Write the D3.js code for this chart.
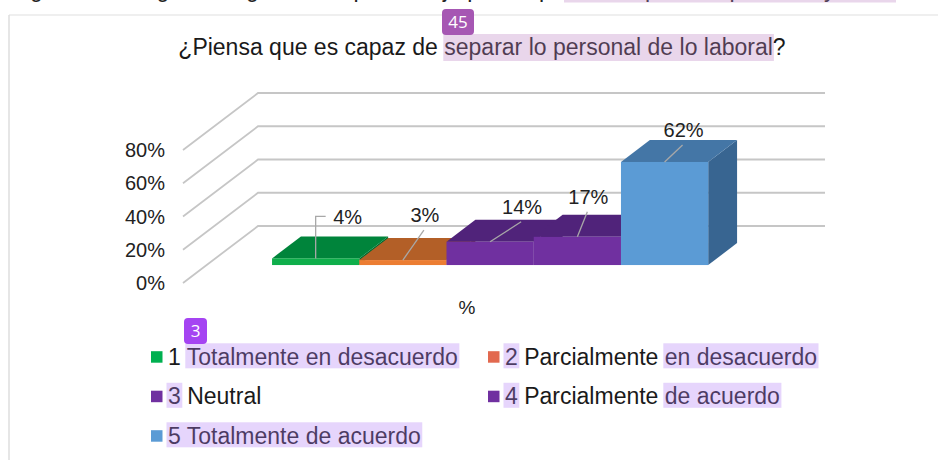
<!DOCTYPE html>
<html>
<head>
<meta charset="utf-8">
<script src="https://cdn.jsdelivr.net/npm/d3@7"></script>
<style>
  body { margin: 0; background: #fff; }
  svg { display: block; font-family: "Liberation Sans", Arial, Helvetica, sans-serif; }
</style>
</head>
<body>
<svg id="chart" width="938" height="460"></svg>
<script>

// data
var title = "¿Piensa que es capaz de separar lo personal de lo laboral?";
var categories = ["1 Totalmente en desacuerdo", "2 Parcialmente en desacuerdo", "3 Neutral",
                  "4 Parcialmente de acuerdo", "5 Totalmente de acuerdo"];
var values = [0.04, 0.03, 0.14, 0.17, 0.62];
var valueLabels = ["4%", "3%", "14%", "17%", "62%"];
var yTicks = [0, 0.2, 0.4, 0.6, 0.8];
var xTitle = "%";

// colours of the faces
var frontColors = ["#0fae4b", "#ec7d32", "#7030a0", "#7030a0", "#5b9bd5"];
var topColors = ["#00843b", "#b35f27", "#50237a", "#50237a", "#4476a6"];
var sideColors = ["#006a2f", "#8e4a1e", "#3f1b61", "#3f1b61", "#386591"];
var legendColors = ["#00b050", "#e2694f", "#7030a0", "#7030a0", "#5b9bd5"];

// highlighted character ranges of the legend texts (document annotation)
var legendMarks = [[[2, 26]], [[0, 1], [15, 28]], [[0, 1]], [[0, 1], [15, 25]], [[0, 23]]];

var svg = d3.select("#chart");

// document frame
svg.append("line").attr("x1", 9).attr("y1", 15).attr("x2", 938).attr("y2", 15)
    .attr("stroke", "#efefef").attr("stroke-width", 2);
svg.append("line").attr("x1", 9).attr("y1", 15).attr("x2", 9).attr("y2", 460)
    .attr("stroke", "#dedede").attr("stroke-width", 1.5);

// cut off line of the page above
svg.append("text").attr("x", 30).attr("y", -3)
    .attr("font-size", 23).attr("fill", "#222")
    .text("gura 45. Pregunta 3, gráfico de porcentaje por respuesta: separar lo personal y lo laboral");
svg.append("rect").attr("x", 564).attr("y", 0).attr("width", 332).attr("height", 2.5)
    .attr("fill", "rgba(188,130,194,0.33)");

// geometry of the 3D floor
var floorLeft = 183, floorRight = 750, floorY = 283;
var depthX = 75, depthY = -57;
var barFront = 0.315, barBack = 0.70;

var h = d3.scaleLinear().domain([0, 0.8]).range([0, 133]);
var x = d3.scaleBand().domain(categories).range([0, floorRight - floorLeft])
    .paddingInner(0).paddingOuter(0.75);

// gridlines: left wall diagonal + back wall line
var grid = svg.append("g");
yTicks.forEach(function(t) {
    var yf = floorY - h(t);
    grid.append("polyline")
        .attr("points", [[floorLeft, yf], [floorLeft + depthX, yf + depthY],
                         [floorRight + depthX, yf + depthY]].join(" "))
        .attr("fill", "none")
        .attr("stroke", "#c6c6c6")
        .attr("stroke-width", 1.8);
    svg.append("text")
        .attr("x", 165)
        .attr("y", yf)
        .attr("dy", "0.36em")
        .attr("text-anchor", "end")
        .attr("font-size", 20)
        .attr("fill", "#222")
        .text(d3.format(".0%")(t));
});

// bars
var ddx = depthX * (barBack - barFront), ddy = depthY * (barBack - barFront);
var bars = [];
categories.forEach(function(c, i) {
    var x0 = floorLeft + x(c) + depthX * barFront;
    var x1 = x0 + x.bandwidth();
    var yb = floorY + depthY * barFront;
    var yt = yb - h(values[i]);
    bars.push({cx: (x0 + x1) / 2, top: yt});
    var g = svg.append("g");
    g.append("polygon")
        .attr("points", [[x1, yt], [x1 + ddx, yt + ddy], [x1 + ddx, yb + ddy], [x1, yb]].join(" "))
        .attr("fill", sideColors[i]);
    g.append("polygon")
        .attr("points", [[x0, yt], [x1, yt], [x1 + ddx, yt + ddy], [x0 + ddx, yt + ddy]].join(" "))
        .attr("fill", topColors[i]);
    g.append("rect")
        .attr("x", x0).attr("y", yt)
        .attr("width", x.bandwidth()).attr("height", yb - yt)
        .attr("fill", frontColors[i]);
});

// data labels with leader lines (offsets from the top of each bar)
var labelOffsets = [[32, -42], [22, -45], [32, -35], [11, -40], [19, -32]];
bars.forEach(function(b, i) {
    var lx = b.cx + labelOffsets[i][0], ly = b.top + labelOffsets[i][1];
    var path = i == 0
        ? "M" + b.cx + "," + b.top + "V" + ly + "H" + (b.cx + 10)
        : "M" + b.cx + "," + b.top + "L" + (lx - 1) + "," + (ly + 15);
    svg.append("path").attr("d", path)
        .attr("fill", "none").attr("stroke", "#a8a8a8").attr("stroke-width", 1.3);
    svg.append("text")
        .attr("x", lx).attr("y", ly).attr("dy", "0.36em")
        .attr("text-anchor", "middle")
        .attr("font-size", 20).attr("fill", "#222")
        .text(valueLabels[i]);
});

// axis title
svg.append("text").attr("x", 467).attr("y", 314)
    .attr("text-anchor", "middle").attr("font-size", 19).attr("fill", "#222")
    .text(xTitle);

// chart title with its highlight
var titleText = svg.append("text")
    .attr("x", 482).attr("y", 55)
    .attr("text-anchor", "middle")
    .attr("font-size", 23).attr("fill", "#1a1a1a")
    .text(title);
var tNode = titleText.node();
var tStart = 482 - tNode.getComputedTextLength() / 2;
var hs = title.indexOf("separar"), he = title.indexOf("?");
var hx = tStart + tNode.getSubStringLength(0, hs);
svg.append("rect")
    .attr("x", hx - 1).attr("y", 34)
    .attr("width", tNode.getSubStringLength(hs, he - hs) + 2).attr("height", 27)
    .attr("fill", "rgba(188,130,194,0.33)");

// legend
var legendPos = [[151, 357], [488, 357], [151, 396.5], [488, 396.5], [151, 436]];
categories.forEach(function(c, i) {
    var sx = legendPos[i][0], cy = legendPos[i][1];
    svg.append("rect")
        .attr("x", sx).attr("y", cy - 5.8)
        .attr("width", 11.5).attr("height", 11.5)
        .attr("fill", legendColors[i]);
    var t = svg.append("text")
        .attr("x", sx + 17).attr("y", cy + 7.5)
        .attr("font-size", 23).attr("fill", "#1a1a1a")
        .text(c);
    var node = t.node();
    legendMarks[i].forEach(function(m) {
        var mx = sx + 17 + node.getSubStringLength(0, m[0]);
        var mw = node.getSubStringLength(m[0], m[1] - m[0]);
        svg.append("rect")
            .attr("x", mx - 1.5).attr("y", cy - 13.7)
            .attr("width", mw + 3).attr("height", 25)
            .attr("fill", "rgba(178,129,246,0.33)");
    });
});

// annotation badges
function badge(x0, y0, w, hgt, fill, label) {
    svg.append("rect").attr("x", x0).attr("y", y0).attr("width", w).attr("height", hgt)
        .attr("rx", 4).attr("fill", fill);
    svg.append("text").attr("x", x0 + w / 2).attr("y", y0 + hgt / 2).attr("dy", "0.36em")
        .attr("text-anchor", "middle")
        .attr("font-family", "'Open Sans', sans-serif").attr("font-size", 17)
        .attr("fill", "#fff").text(label);
}
badge(442, 9, 32, 26, "#a657b3", "45");
badge(184, 318, 23, 26, "#a544f2", "3");

</script>
</body>
</html>
